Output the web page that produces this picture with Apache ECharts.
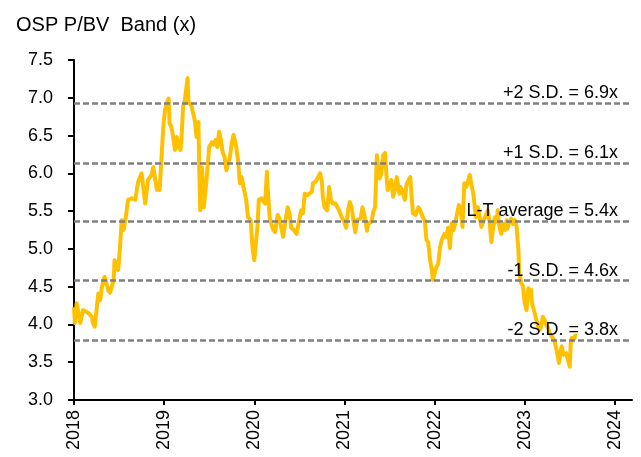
<!DOCTYPE html>
<html>
<head>
<meta charset="utf-8">
<script src="https://cdn.jsdelivr.net/npm/echarts@6/dist/echarts.min.js"></script>
<style>
  html, body { margin: 0; padding: 0; background: #fff; }
  #chart { width: 641px; height: 457px; }
</style>
</head>
<body>
<div id="chart"></div>
<script>
// Decimal-year positions of the observations
const years = [
  2018.00, 2018.01, 2018.03, 2018.07, 2018.10, 2018.16, 2018.20, 2018.21, 2018.23, 2018.27,
  2018.29, 2018.31, 2018.34, 2018.38, 2018.40, 2018.44, 2018.45, 2018.49, 2018.51, 2018.53,
  2018.55, 2018.57, 2018.60, 2018.64, 2018.68, 2018.71, 2018.75, 2018.79, 2018.82, 2018.86,
  2018.88, 2018.92, 2018.93, 2018.95, 2018.99, 2019.01, 2019.03, 2019.05, 2019.06, 2019.08,
  2019.10, 2019.12, 2019.14, 2019.16, 2019.18, 2019.19, 2019.21, 2019.23, 2019.26, 2019.27,
  2019.30, 2019.32, 2019.34, 2019.36, 2019.38, 2019.39, 2019.40, 2019.42, 2019.44, 2019.47,
  2019.50, 2019.53, 2019.55, 2019.57, 2019.59, 2019.61, 2019.63, 2019.65, 2019.67, 2019.69,
  2019.71, 2019.73, 2019.75, 2019.77, 2019.80, 2019.82, 2019.84, 2019.86, 2019.88, 2019.91,
  2019.93, 2019.96, 2019.98, 2020.00, 2020.02, 2020.035, 2020.05, 2020.08, 2020.10, 2020.12,
  2020.14, 2020.15, 2020.17, 2020.20, 2020.23, 2020.25, 2020.26, 2020.28, 2020.30, 2020.32,
  2020.35, 2020.37, 2020.39, 2020.41, 2020.44, 2020.47, 2020.49, 2020.52, 2020.54, 2020.56,
  2020.59, 2020.61, 2020.64, 2020.65, 2020.68, 2020.70, 2020.73, 2020.75, 2020.76, 2020.78,
  2020.81, 2020.83, 2020.85, 2020.87, 2020.90, 2020.92, 2020.94, 2020.97, 2020.99, 2021.02,
  2021.04, 2021.06, 2021.08, 2021.10, 2021.12, 2021.14, 2021.16, 2021.18, 2021.20, 2021.23,
  2021.25, 2021.26, 2021.28, 2021.30, 2021.32, 2021.34, 2021.36, 2021.37, 2021.39, 2021.41,
  2021.43, 2021.45, 2021.47, 2021.48, 2021.50, 2021.52, 2021.54, 2021.56, 2021.58, 2021.61,
  2021.62, 2021.64, 2021.67, 2021.69, 2021.71, 2021.73, 2021.74, 2021.76, 2021.79, 2021.82,
  2021.84, 2021.87, 2021.89, 2021.91, 2021.93, 2021.95, 2021.97, 2021.98, 2022.00, 2022.02,
  2022.04, 2022.06, 2022.08, 2022.09, 2022.11, 2022.13, 2022.15, 2022.17, 2022.18, 2022.19,
  2022.21, 2022.23, 2022.25, 2022.27, 2022.29, 2022.31, 2022.32, 2022.33, 2022.35, 2022.37,
  2022.39, 2022.41, 2022.43, 2022.45, 2022.46, 2022.48, 2022.50, 2022.52, 2022.54, 2022.56,
  2022.58, 2022.59, 2022.61, 2022.63, 2022.65, 2022.67, 2022.69, 2022.70, 2022.72, 2022.74,
  2022.76, 2022.78, 2022.80, 2022.81, 2022.83, 2022.85, 2022.87, 2022.89, 2022.91, 2022.93,
  2022.94, 2022.96, 2022.98, 2023.00, 2023.02, 2023.04, 2023.06, 2023.07, 2023.08, 2023.09,
  2023.11, 2023.13, 2023.15, 2023.17, 2023.19, 2023.20, 2023.22, 2023.24, 2023.26, 2023.28,
  2023.30, 2023.31, 2023.33, 2023.35, 2023.36, 2023.38, 2023.40, 2023.41, 2023.43, 2023.44,
  2023.46, 2023.48, 2023.50, 2023.51, 2023.52, 2023.54, 2023.56, 2023.58
];
// P/BV multiple (x)
const pbv = [
  4.23, 4.02, 4.28, 4.02, 4.19, 4.15, 4.10, 4.02, 3.97, 4.41,
  4.32, 4.50, 4.63, 4.45, 4.42, 4.59, 4.85, 4.72, 5.02, 5.38,
  5.25, 5.38, 5.65, 5.67, 5.65, 5.88, 6.00, 5.60, 5.91, 5.98,
  6.08, 5.78, 5.85, 5.78, 6.61, 6.84, 6.93, 6.99, 6.66, 6.62,
  6.48, 6.31, 6.48, 6.35, 6.31, 6.40, 6.88, 6.97, 7.26, 6.93,
  6.91, 6.93, 6.70, 6.48, 6.68, 6.04, 5.51, 6.08, 5.55, 5.91,
  6.35, 6.41, 6.38, 6.44, 6.35, 6.55, 6.44, 6.27, 6.22, 6.04,
  6.04, 6.22, 6.40, 6.51, 6.35, 6.17, 5.87, 5.95, 5.82, 5.65,
  5.42, 5.38, 5.02, 4.85, 4.85, 5.29, 5.65, 5.67, 5.69, 5.60,
  6.02, 5.78, 5.42, 5.28, 5.22, 5.38, 5.45, 5.40, 5.42, 5.16,
  5.40, 5.55, 5.47, 5.28, 5.25, 5.20, 5.33, 5.51, 5.47, 5.73,
  5.71, 5.73, 5.76, 5.87, 5.89, 5.93, 6.00, 5.89, 5.69, 5.55,
  5.51, 5.82, 5.65, 5.60, 5.60, 5.60, 5.51, 5.42, 5.38, 5.28,
  5.51, 5.62, 5.55, 5.38, 5.22, 5.38, 5.36, 5.40, 5.55, 5.40,
  5.24, 5.33, 5.31, 5.36, 5.49, 5.55, 6.24, 6.13, 5.93, 6.00,
  6.24, 6.27, 5.91, 5.78, 5.80, 5.91, 5.69, 5.78, 5.95, 5.73,
  5.82, 5.78, 5.65, 5.86, 5.88, 5.95, 5.78, 5.47, 5.45, 5.55,
  5.51, 5.42, 5.38, 5.12, 5.08, 4.85, 4.72, 4.59, 4.57, 4.76,
  4.80, 5.02, 5.12, 5.14, 5.20, 5.16, 5.28, 5.01, 5.20, 5.34,
  5.25, 5.34, 5.47, 5.58, 5.53, 5.29, 5.60, 5.87, 5.82, 5.89,
  5.98, 5.84, 5.73, 5.51, 5.42, 5.55, 5.42, 5.29, 5.36, 5.42,
  5.40, 5.51, 5.36, 5.09, 5.29, 5.42, 5.36, 5.51, 5.29, 5.20,
  5.33, 5.25, 5.38, 5.27, 5.36, 5.40, 5.33, 5.38, 5.29, 4.98,
  4.68, 4.55, 4.51, 4.28, 4.19, 4.48, 4.38, 4.46, 4.28, 4.24,
  4.15, 4.06, 3.97, 3.93, 4.02, 4.10, 4.06, 3.99, 3.95, 3.88,
  3.84, 3.82, 3.79, 3.79, 3.62, 3.49, 3.66, 3.71, 3.60, 3.60,
  3.62, 3.62, 3.44, 3.75, 3.82, 3.79, 3.85, 3.85
];
// Band levels and their labels
const bandValues = [6.93, 6.13, 5.37, 4.58, 3.79];
const bandLabels = ['+2 S.D. = 6.9x', '+1 S.D. = 6.1x', 'L-T average = 5.4x', '-1 S.D. = 4.6x', '-2 S.D. = 3.8x'];
// Axis ticks
const yearTicks = [2018, 2019, 2020, 2021, 2022, 2023, 2024];
const xMin = 2018, xMax = 2024.19;
const yMin = 3.0, yMax = 7.5, yStep = 0.5;

const FONT = '"Liberation Sans", Arial, Helvetica, sans-serif';
const chart = echarts.init(document.getElementById('chart'), null, { renderer: 'canvas' });

chart.setOption({
  animation: false,
  backgroundColor: '#ffffff',
  title: {
    text: 'OSP P/BV  Band (x)',
    left: 11,
    top: 10,
    textStyle: { fontFamily: FONT, fontSize: 20, fontWeight: 'normal', color: '#000' }
  },
  grid: { left: 74, top: 60, right: 9, bottom: 57, containLabel: false },
  xAxis: {
    type: 'value',
    min: xMin,
    max: xMax,
    splitLine: { show: false },
    axisLine: { show: true, lineStyle: { color: '#000', width: 2 } },
    axisTick: { show: true, length: 5, lineStyle: { color: '#000', width: 2 }, customValues: yearTicks },
    axisLabel: {
      customValues: yearTicks,
      rotate: 90,
      margin: 10,
      fontFamily: FONT,
      fontSize: 18,
      color: '#000',
      formatter: v => String(Math.round(v))
    }
  },
  yAxis: {
    type: 'value',
    min: yMin,
    max: yMax,
    interval: yStep,
    splitLine: { show: false },
    axisLine: { show: true, lineStyle: { color: '#000', width: 2 } },
    axisTick: { show: true, length: 6, lineStyle: { color: '#000', width: 2 } },
    axisLabel: {
      margin: 21,
      fontFamily: FONT,
      fontSize: 18,
      color: '#000',
      formatter: v => v.toFixed(1)
    }
  },
  series: [{
    type: 'line',
    data: years.map((y, i) => [y, pbv[i]]),
    showSymbol: false,
    symbol: 'none',
    lineStyle: { color: '#FFC000', width: 4, join: 'round' },
    z: 3,
    markLine: {
      silent: true,
      symbol: ['none', 'none'],
      animation: false,
      lineStyle: { color: '#808080', width: 2.5, type: [6, 3] },
      label: {
        show: true,
        position: 'insideEndTop',
        distance: [14, 1],
        fontFamily: FONT,
        fontSize: 18,
        color: '#000'
      },
      data: bandValues.map((v, i) => ({
        yAxis: v,
        label: { formatter: bandLabels[i] }
      }))
    }
  }]
});
</script>
</body>
</html>
